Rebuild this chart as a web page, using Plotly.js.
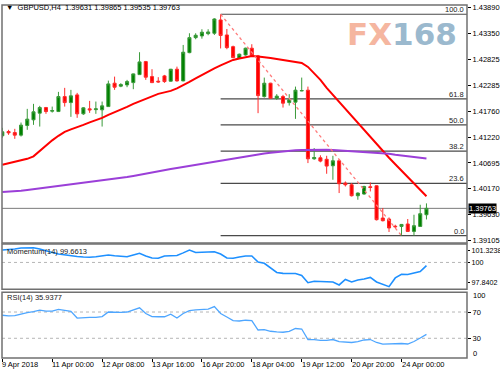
<!DOCTYPE html>
<html><head><meta charset="utf-8">
<script src="https://cdn.plot.ly/plotly-3.0.1.min.js"></script>
<style>html,body{margin:0;padding:0;background:#fff}#chart{width:500px;height:375px}</style>
</head><body><div id="chart"></div>
<script>
const symbol = "GBPUSD,H4";
const xTickIdx = [0, 8, 16, 24, 32, 40, 48, 56, 64];
const xTickText = ["9 Apr 2018", "11 Apr 00:00", "12 Apr 08:00", "13 Apr 16:00", "16 Apr 20:00", "18 Apr 04:00", "19 Apr 12:00", "20 Apr 20:00", "24 Apr 00:00"];

const openP = [1.41252,1.41340,1.41319,1.41266,1.41463,1.41580,1.41717,1.41832,1.41758,1.41750,
1.42057,1.41934,1.42092,1.41703,1.41805,1.41789,1.41785,1.41852,1.42332,1.42271,
1.42297,1.42344,1.42508,1.42775,1.42467,1.42373,1.42482,1.42373,1.42619,1.42379,
1.42959,1.43267,1.43302,1.43349,1.43357,1.43630,1.43322,1.43082,1.42845,1.42912,
1.43050,1.42892,1.42057,1.42332,1.42025,1.42057,1.41934,1.41943,1.42174,1.42189,
1.40780,1.40801,1.40770,1.40637,1.40739,1.40282,1.40247,1.40022,1.40057,1.40206,
1.40227,1.39565,1.39544,1.39396,1.39392,1.39442,1.39290,1.39392,1.39631];
const highP = [1.41416,1.41375,1.41395,1.41524,1.41805,1.41908,1.41867,1.41845,1.41852,1.42154,
1.42236,1.42195,1.42133,1.41840,1.41969,1.41955,1.41955,1.42385,1.42467,1.42332,
1.42400,1.42530,1.42968,1.42789,1.42619,1.42455,1.42502,1.42625,1.42672,1.43117,
1.43357,1.43357,1.43439,1.43439,1.43665,1.43747,1.43445,1.43103,1.42939,1.43062,
1.43132,1.42912,1.42447,1.42340,1.42107,1.42092,1.42107,1.42262,1.42447,1.42262,
1.41000,1.40852,1.40842,1.40842,1.40774,1.40315,1.40282,1.40089,1.40227,1.40294,
1.40235,1.39770,1.39577,1.39427,1.39442,1.39544,1.39632,1.39837,1.39865];
const lowP = [1.41211,1.41272,1.41190,1.41237,1.41375,1.41477,1.41442,1.41703,1.41729,1.41740,
1.41852,1.41641,1.41621,1.41682,1.41723,1.41703,1.41442,1.41845,1.42195,1.42250,
1.42250,1.42209,1.42502,1.42400,1.42335,1.42340,1.42340,1.42365,1.42365,1.42372,
1.42947,1.43234,1.43246,1.43316,1.43322,1.43045,1.43029,1.42845,1.42830,1.42898,
1.42877,1.41717,1.42037,1.42010,1.41990,1.41832,1.41873,1.41600,1.42168,1.40692,
1.40760,1.40708,1.40473,1.40350,1.40077,1.40212,1.40007,1.39940,1.40042,1.40110,
1.39515,1.39495,1.39278,1.39360,1.39202,1.39280,1.39202,1.39385,1.39535];
const closeP = [1.41334,1.41313,1.41266,1.41471,1.41594,1.41744,1.41832,1.41750,1.41770,1.42057,
1.41934,1.42072,1.41703,1.41826,1.41785,1.41805,1.41867,1.42318,1.42250,1.42303,
1.42365,1.42523,1.42769,1.42455,1.42344,1.42359,1.42365,1.42619,1.42379,1.42968,
1.43267,1.43316,1.43378,1.43384,1.43650,1.43312,1.43062,1.42857,1.42927,1.43050,
1.42898,1.42078,1.42332,1.42025,1.42066,1.41922,1.41990,1.42189,1.42180,1.40780,
1.40807,1.40733,1.40631,1.40739,1.40268,1.40247,1.40022,1.40077,1.40212,1.40192,
1.39530,1.39509,1.39360,1.39386,1.39433,1.39290,1.39407,1.39653,1.39763];

const maFast = [1.40657,1.40688,1.40719,1.40749,1.40780,1.40831,1.40944,1.41047,1.41159,1.41252,
1.41334,1.41385,1.41426,1.41477,1.41528,1.41569,1.41621,1.41682,1.41733,1.41785,
1.41846,1.41908,1.41959,1.42010,1.42072,1.42113,1.42143,1.42174,1.42225,1.42287,
1.42359,1.42430,1.42502,1.42574,1.42635,1.42697,1.42758,1.42810,1.42840,1.42871,
1.42892,1.42881,1.42871,1.42851,1.42830,1.42810,1.42789,1.42769,1.42748,1.42666,
1.42543,1.42400,1.42236,1.42092,1.41949,1.41795,1.41651,1.41508,1.41364,1.41221,
1.41077,1.40934,1.40801,1.40667,1.40534,1.40391,1.40257,1.40134,1.40011];
const maSlow = [1.40098,1.40104,1.40114,1.40124,1.40139,1.40155,1.40175,1.40190,1.40206,1.40223,
1.40237,1.40251,1.40268,1.40282,1.40298,1.40315,1.40329,1.40346,1.40364,1.40385,
1.40405,1.40426,1.40452,1.40473,1.40497,1.40520,1.40544,1.40569,1.40590,1.40612,
1.40633,1.40653,1.40672,1.40692,1.40713,1.40733,1.40760,1.40784,1.40807,1.40827,
1.40848,1.40868,1.40889,1.40903,1.40918,1.40930,1.40944,1.40954,1.40961,1.40965,
1.40965,1.40965,1.40965,1.40961,1.40954,1.40944,1.40934,1.40924,1.40918,1.40909,
1.40903,1.40893,1.40883,1.40862,1.40846,1.40831,1.40817,1.40801,1.40786];

const momentum = [101.32,101.35,101.43,101.54,101.59,101.56,101.43,101.22,101.06,100.90,
100.79,100.74,100.63,100.58,100.55,100.61,100.74,100.79,100.72,100.63,
100.61,100.79,100.97,100.69,100.47,100.44,100.69,100.72,100.74,101.02,
101.32,101.06,101.06,101.11,101.14,100.90,100.47,100.44,100.58,100.69,
100.69,100.05,99.91,99.38,98.93,98.84,98.84,98.82,98.61,97.84,
97.99,97.95,97.95,97.92,97.60,98.18,97.92,98.13,98.24,98.40,
97.92,97.65,97.42,98.35,98.74,98.72,98.88,99.02,99.6613];
const rsi = [65.1,64.2,64.6,67.2,69.2,70.7,73.0,71.5,71.5,74.1,
73.0,71.0,60.8,61.6,61.9,61.9,63.1,70.0,69.5,69.5,
70.0,73.8,76.4,67.7,63.1,62.8,62.8,66.6,60.8,67.7,
72.2,73.3,74.2,74.5,78.3,67.7,62.4,57.0,56.3,57.5,
57.0,42.6,43.3,40.7,39.8,39.2,40.6,44.9,44.1,28.0,
28.1,26.8,26.8,28.1,24.8,24.3,23.6,24.8,27.4,28.1,
23.6,21.0,21.3,22.1,22.1,21.3,25.1,30.4,35.9377];

const priceTicks = [1.43890, 1.43350, 1.42825, 1.42285, 1.41760, 1.41220, 1.40695, 1.40170, 1.39630, 1.39105];
const momTicks = [97.8402, 100, 101.3238];
const momTickText = ['97.8402', '100', '101.3238'];
const rsiTicks = [30, 70];
const fibLevels = [0, 23.6, 38.2, 50, 61.8, 100];
const fibStartIdx = 35, fibEndIdx = 64;

const xs = openP.map((_, i) => i);
const last = closeP.length - 1;
const fibHigh = highP[fibStartIdx], fibLow = lowP[fibEndIdx];
const XMAX = 74.5;

const traces = [
  {type:'candlestick', x:xs, open:openP, high:highP, low:lowP, close:closeP, xaxis:'x', yaxis:'y',
   increasing:{line:{color:'#3a9a3a', width:1}, fillcolor:'#008000'},
   decreasing:{line:{color:'#ff2a2a', width:1}, fillcolor:'#ff0000'},
   whiskerwidth:0, hoverinfo:'skip'},
  {type:'scatter', mode:'lines', x:xs, y:maFast, line:{color:'#ff0000', width:2}, xaxis:'x', yaxis:'y', hoverinfo:'skip'},
  {type:'scatter', mode:'lines', x:xs, y:maSlow, line:{color:'#9b3fd8', width:2}, xaxis:'x', yaxis:'y', hoverinfo:'skip'},
  {type:'scatter', mode:'lines', x:[fibStartIdx, fibEndIdx], y:[fibHigh, fibLow], line:{color:'#ff7a7a', width:1.3, dash:'dot'}, xaxis:'x', yaxis:'y', hoverinfo:'skip'},
  {type:'scatter', mode:'lines', x:xs, y:momentum, line:{color:'#1e90ff', width:1.6}, xaxis:'x', yaxis:'y2', hoverinfo:'skip'},
  {type:'scatter', mode:'lines', x:xs, y:rsi, line:{color:'#4ea6ff', width:1.3}, xaxis:'x', yaxis:'y3', hoverinfo:'skip'}
];

const shapes = [];
const annotations = [];
['y','y2','y3'].forEach(a => shapes.push({type:'rect', xref:'x domain', yref:a+' domain', x0:0, x1:1, y0:0, y1:1, line:{color:'#707070', width:1.5}, layer:'above'}));
shapes.push({type:'line', xref:'x domain', yref:'y', x0:0, x1:1, y0:closeP[last], y1:closeP[last], line:{color:'#7a7a7a', width:1}, layer:'below'});
fibLevels.forEach(lv => {
  const p = fibLow + (fibHigh - fibLow) * lv / 100;
  shapes.push({type:'line', xref:'x', yref:'y', x0:fibStartIdx, x1:XMAX, y0:p, y1:p, line:{color:'#4a4a4a', width:1.2}, layer:'below'});
  annotations.push({xref:'paper', yref:'y', x:0.9957, y:p, xanchor:'right', yanchor:'bottom', showarrow:false, text:lv.toFixed(1), font:{size:7.5, color:'#222'}, borderpad:0, yshift:-1});
});
shapes.push({type:'line', xref:'x domain', yref:'y2', x0:0, x1:1, y0:100, y1:100, line:{color:'#b5b5b5', width:1, dash:'dot'}, layer:'below'});
rsiTicks.forEach(v => shapes.push({type:'line', xref:'x domain', yref:'y3', x0:0, x1:1, y0:v, y1:v, line:{color:'#b5b5b5', width:1, dash:'dot'}, layer:'below'}));

// x tick labels, left-aligned at the tick like the terminal does
xTickIdx.forEach((ix, k) => annotations.push({xref:'x', yref:'paper', x:ix, y:-0.0198, xanchor:'left', yanchor:'middle', showarrow:false,
  text:xTickText[k], font:{size:7.5, color:'#000'}, xshift:-1, borderpad:0}));

annotations.push({xref:'paper', yref:'paper', x:0.004, y:0.994, xanchor:'left', yanchor:'middle', showarrow:false,
  text:'\u25BC  ' + symbol + '  ' + openP[last].toFixed(5) + ' ' + highP[last].toFixed(5) + ' ' + lowP[last].toFixed(5) + ' ' + closeP[last].toFixed(5),
  font:{size:7.5, color:'#000'}});
annotations.push({xref:'paper', yref:'paper', x:0.006, y:0.303, xanchor:'left', yanchor:'middle', showarrow:false,
  text:'Momentum(14) ' + momentum[last].toFixed(4), font:{size:7.5, color:'#222'}});
annotations.push({xref:'paper', yref:'paper', x:0.006, y:0.1728, xanchor:'left', yanchor:'middle', showarrow:false,
  text:'RSI(14) ' + rsi[last].toFixed(4), font:{size:7.5, color:'#222'}});
annotations.push({xref:'paper', yref:'paper', x:0.860, y:0.918, xanchor:'center', yanchor:'middle', showarrow:false,
  text:'<span style="color:#f5b6a0">FX</span><span style="color:#9bb9ce">168</span>',
  font:{size:31, family:'DejaVu Sans, sans-serif', weight:'bold'}});
annotations.push({xref:'paper', yref:'y', x:1, y:closeP[last], xanchor:'left', yanchor:'middle', showarrow:false,
  text:closeP[last].toFixed(5), bgcolor:'#000', font:{size:7.5, color:'#fff'}, borderpad:0, xshift:1});
annotations.push({xref:'paper', yref:'y3 domain', x:1, y:0.944, xanchor:'left', yanchor:'middle', showarrow:false, text:'100', font:{size:7.5, color:'#000'}, xshift:4});
annotations.push({xref:'paper', yref:'y3 domain', x:1, y:0.076, xanchor:'left', yanchor:'middle', showarrow:false, text:'0', font:{size:7.5, color:'#000'}, xshift:4});

const yCommon = {side:'right', anchor:'x', showgrid:false, zeroline:false, ticks:'outside', ticklen:3, tickcolor:'#000', tickfont:{size:7.5, color:'#000'}, fixedrange:true, showline:false};
const layout = {
  width:500, height:375, margin:{l:2, r:33, t:5, b:17}, paper_bgcolor:'#fff', plot_bgcolor:'#fff', showlegend:false,
  font:{family:'Liberation Sans, Arial, sans-serif', size:7.5, color:'#000'},
  hovermode:false,
  xaxis:{range:[-0.05, XMAX], anchor:'y3', tickmode:'array', tickvals:xTickIdx, showticklabels:false, ticks:'outside', ticklen:3, tickcolor:'#000',
    showgrid:false, zeroline:false, showline:false, rangeslider:{visible:false}, fixedrange:true},
  yaxis:Object.assign({}, yCommon, {domain:[0.3258, 1], range:[1.39052, 1.43937], tickmode:'array', tickvals:priceTicks, ticktext:priceTicks.map(v => v.toFixed(5))}),
  yaxis2:Object.assign({}, yCommon, {domain:[0.1946, 0.3229], range:[97.137, 101.963], tickmode:'array', tickvals:momTicks, ticktext:momTickText, ticklen:2, tickfont:{size:7.2, color:'#000'}}),
  yaxis3:Object.assign({}, yCommon, {domain:[0, 0.1861], range:[0, 100], tickmode:'array', tickvals:rsiTicks, ticktext:rsiTicks.map(String)}),
  shapes:shapes, annotations:annotations
};
Plotly.newPlot('chart', traces, layout, {staticPlot:true, displayModeBar:false});
</script></body></html>
